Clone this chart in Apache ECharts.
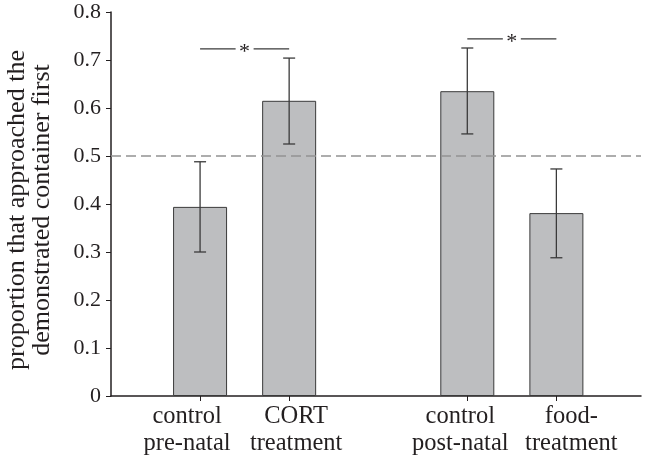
<!DOCTYPE html>
<html><head><meta charset="utf-8">
<script src="https://cdn.jsdelivr.net/npm/echarts@6/dist/echarts.min.js"></script>
<style>html,body{margin:0;padding:0;background:#fff}#c{width:646px;height:460px}</style>
</head><body><div id="c"></div>
<script>
// ---- data ----
const categories = ['control\npre-natal', 'CORT\ntreatment', 'control\npost-natal', 'food-\ntreatment'];
const groupOf = [0, 0, 1, 1];
const proportions = [0.394, 0.615, 0.635, 0.381];
const errLow = [0.300, 0.525, 0.546, 0.288];
const errHigh = [0.488, 0.704, 0.725, 0.473];
const yTicks = [0, 0.1, 0.2, 0.3, 0.4, 0.5, 0.6, 0.7, 0.8];
const chanceLevel = 0.5;
const sigPairs = [[0, 1, 0.723], [2, 3, 0.744]];
const sigLabel = '*';
const yAxisTitle = 'proportion that approached the\ndemonstrated container first';

// ---- layout / style ----
const FONT = '"Liberation Serif", "Times New Roman", serif';
const INK = '#231f20';
const GRID = {left: 111, right: 5, top: 12, bottom: 64};
const X_MAX = 5.95;
const labelNudgePx = [-13, 7, -7, 15];   // category labels sit spread outwards from their ticks
const unitPx = (646 - GRID.left - GRID.right) / X_MAX;

const xPos = categories.map((c, i) => i + 1 + groupOf[i]);
const labelPos = xPos.map((x, i) => +(x + labelNudgePx[i] / unitPx).toFixed(4));
const labelMap = {};
labelPos.forEach((x, i) => labelMap[x] = categories[i]);

const chart = echarts.init(document.getElementById('c'), null, {renderer: 'canvas'});
chart.setOption({
  animation: false,
  backgroundColor: '#fff',
  grid: Object.assign({containLabel: false, outerBoundsMode: 'none'}, GRID),
  xAxis: {
    type: 'value', min: 0, max: X_MAX,
    splitLine: {show: false},
    axisLine: {show: true, lineStyle: {color: INK, width: 1.5}},
    axisTick: {show: true, length: 5, inside: false, customValues: xPos, lineStyle: {color: INK, width: 1}},
    axisLabel: {
      customValues: labelPos, margin: 7, color: INK, fontFamily: FONT, fontSize: 24.5, lineHeight: 27,
      hideOverlap: false, showMinLabel: true, showMaxLabel: true,
      formatter: v => labelMap[+(+v).toFixed(4)] || ''
    }
  },
  yAxis: {
    type: 'value', min: yTicks[0], max: yTicks[yTicks.length - 1], interval: 0.1,
    splitLine: {show: false},
    axisLine: {show: true, lineStyle: {color: INK, width: 1.5}},
    axisTick: {show: true, length: 5, lineStyle: {color: INK, width: 1}},
    axisLabel: {margin: 10, color: INK, fontFamily: FONT, fontSize: 22,
      formatter: v => String(+v.toFixed(1))},
    name: yAxisTitle, nameLocation: 'middle', nameGap: 56, nameRotate: 90,
    nameTextStyle: {color: INK, fontFamily: FONT, fontSize: 26, lineHeight: 25, align: 'center', padding: [0, 12, 0, 0]}
  },
  series: [
    {
      type: 'bar', barWidth: 54,
      data: xPos.map((x, i) => [x, proportions[i]]),
      itemStyle: {color: '#bdbec0', borderColor: '#3a3a3a', borderWidth: 1},
      markLine: {
        silent: true, symbol: 'none', label: {show: false},
        lineStyle: {color: '#939393', width: 1.5, type: [10, 5]},
        data: [{yAxis: chanceLevel}]
      },
      z: 2
    },
    {
      type: 'custom', z: 5,
      data: xPos.map((x, i) => [x, errLow[i], errHigh[i]]),
      renderItem: (params, api) => {
        const x = api.value(0);
        const lo = api.coord([x, api.value(1)]);
        const hi = api.coord([x, api.value(2)]);
        const st = {stroke: '#3a3a3a', lineWidth: 1.3};
        return {type: 'group', children: [
          {type: 'line', shape: {x1: lo[0], y1: lo[1], x2: hi[0], y2: hi[1]}, style: st},
          {type: 'line', shape: {x1: lo[0] - 6, y1: lo[1], x2: lo[0] + 6, y2: lo[1]}, style: st},
          {type: 'line', shape: {x1: hi[0] - 6, y1: hi[1], x2: hi[0] + 6, y2: hi[1]}, style: st}
        ]};
      }
    },
    {
      type: 'custom', z: 5,
      data: sigPairs.map(p => [xPos[p[0]], xPos[p[1]], p[2]]),
      renderItem: (params, api) => {
        const a = api.coord([api.value(0), api.value(2)]);
        const b = api.coord([api.value(1), api.value(2)]);
        const m = (a[0] + b[0]) / 2;
        const st = {stroke: '#3a3a3a', lineWidth: 1.2};
        return {type: 'group', children: [
          {type: 'line', shape: {x1: a[0], y1: a[1], x2: m - 9, y2: a[1]}, style: st},
          {type: 'line', shape: {x1: m + 9, y1: a[1], x2: b[0], y2: b[1]}, style: st},
          {type: 'text', x: m, y: a[1] + 3, style: {text: sigLabel, fill: INK, font: '22px ' + FONT, align: 'center', verticalAlign: 'middle'}}
        ]};
      }
    }
  ]
});
</script></body></html>
